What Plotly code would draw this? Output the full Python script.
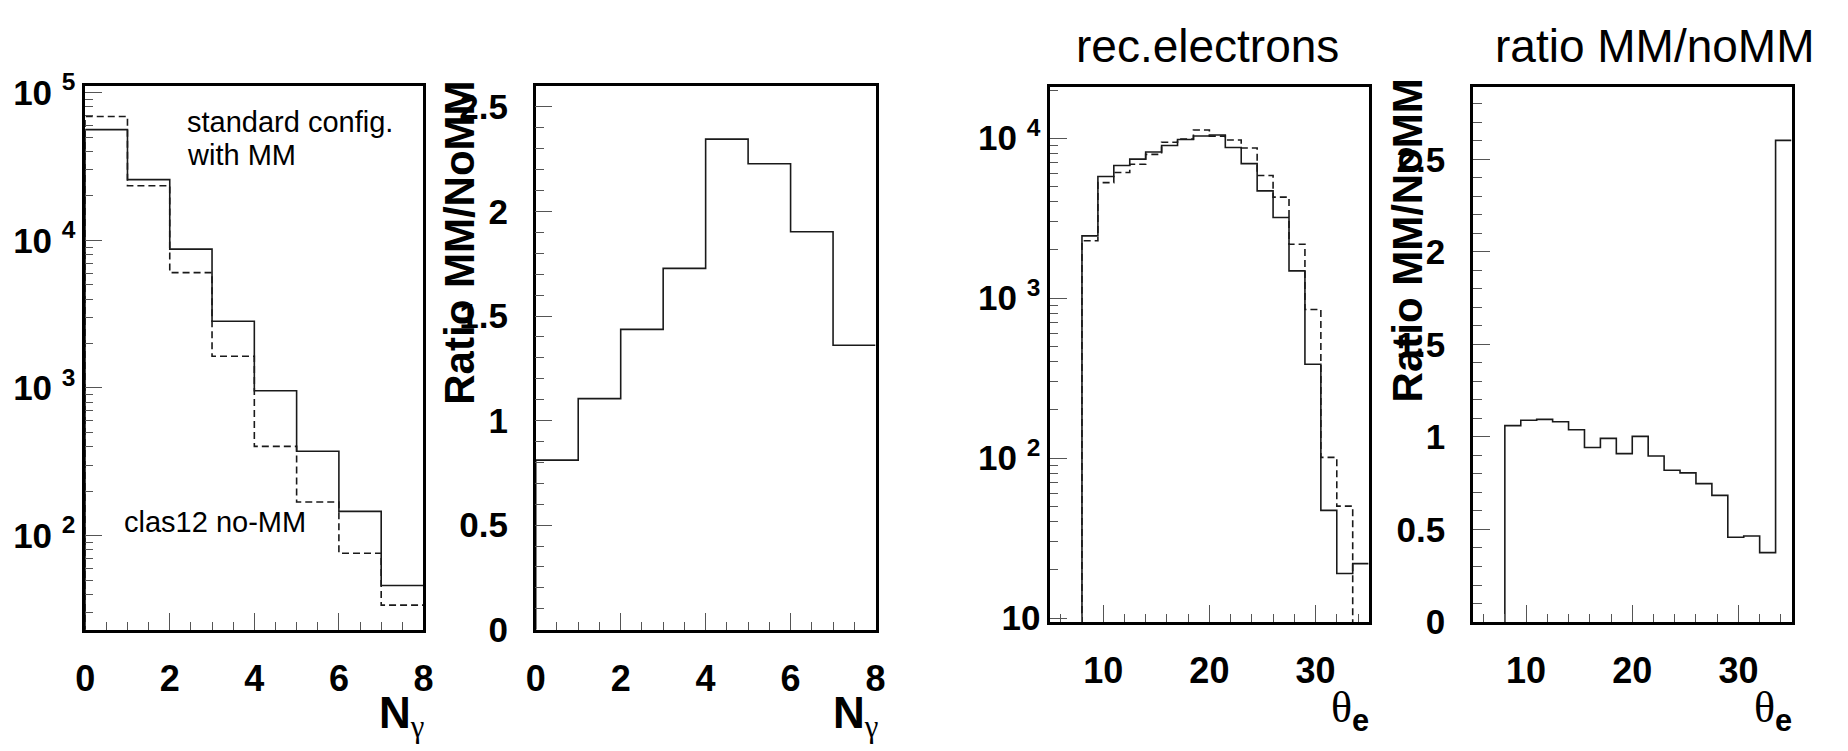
import plotly.graph_objects as go

# ---------------- data ----------------
# Panel 1 & 2 : photon multiplicity N_gamma
ng_edges = [0, 1, 2, 3, 4, 5, 6, 7, 8]
ng_with_mm = [56200, 25750, 8710, 2830, 957, 373, 146, 45.9]      # solid
ng_no_mm = [69000, 23400, 6040, 1640, 402, 169, 76, 33.8]         # dashed
ng_ratio = [0.811, 1.105, 1.436, 1.728, 2.346, 2.228, 1.903, 1.360]

# Panel 3 & 4 : electron polar angle theta_e
th_edges = [8, 9.5, 11, 12.5, 14, 15.5, 17, 18.5, 20, 21.5, 23, 24.5,
            26, 27.5, 29, 30.5, 32, 33.5, 35]
th_with_mm = [2450, 5755, 6745, 7390, 8200, 8990, 9810, 10320, 10460,
              8750, 6930, 4680, 3190, 1480, 386, 47.1, 19.0, 21.9]   # solid
th_no_mm = [2285, 5272, 6105, 6870, 7920, 9420, 9860, 11250, 10300,
            9730, 8670, 5840, 4280, 2170, 849, 101, 50.1, 8.4]      # dashed
th_ratio = [1.061, 1.090, 1.095, 1.082, 1.039, 0.943, 0.992, 0.910, 1.003,
            0.897, 0.820, 0.806, 0.748, 0.684, 0.458, 0.465, 0.375, 2.602]

log_major = [10, 100, 1000, 10000, 100000]
log_major_text = ["10", "10 <sup>2</sup>", "10 <sup>3</sup>", "10 <sup>4</sup>", "10 <sup>5</sup>"]

W, H = 1848, 751
FONT = "Liberation Sans"
LINE = "#1a1a1a"
TICKC = "#555555"


def px_x(p):
    return p / W


def px_y(p):
    return 1 - p / H


def step(edges, vals, floor):
    xs = [edges[0]] + list(edges)
    ys = [floor] + list(vals) + [vals[-1]]
    return xs, ys


fig = go.Figure()

# panel 1
for vals, dash in [(ng_no_mm, "7px,4px"), (ng_with_mm, "solid")]:
    xs, ys = step(ng_edges, vals, 1)
    fig.add_trace(go.Scatter(x=xs, y=ys, mode="lines", line_shape="hv",
                             line=dict(color=LINE, width=1.6, dash=dash),
                             xaxis="x", yaxis="y", showlegend=False, hoverinfo="skip"))
# panel 2
xs, ys = step(ng_edges, ng_ratio, 0)
fig.add_trace(go.Scatter(x=xs, y=ys, mode="lines", line_shape="hv",
                         line=dict(color=LINE, width=1.6),
                         xaxis="x2", yaxis="y2", showlegend=False, hoverinfo="skip"))
# panel 3
for vals, dash in [(th_no_mm, "7px,4px"), (th_with_mm, "solid")]:
    xs, ys = step(th_edges, vals, 1)
    fig.add_trace(go.Scatter(x=xs, y=ys, mode="lines", line_shape="hv",
                             line=dict(color=LINE, width=1.6, dash=dash),
                             xaxis="x3", yaxis="y3", showlegend=False, hoverinfo="skip"))
# panel 4
xs, ys = step(th_edges, th_ratio, 0)
fig.add_trace(go.Scatter(x=xs, y=ys, mode="lines", line_shape="hv",
                         line=dict(color=LINE, width=1.6),
                         xaxis="x4", yaxis="y4", showlegend=False, hoverinfo="skip"))


def base_axis(**kw):
    d = dict(showgrid=False, zeroline=False, showline=True, linecolor="black",
             linewidth=2.5, mirror=True, ticks="inside", ticklen=17, tickwidth=1,
             tickcolor=TICKC, tickfont=dict(family=FONT, size=36, color="black", weight="bold"))
    d.update(kw)
    return d


def log_minor(lo, hi):
    out = []
    dec = 1
    while dec < hi:
        for m in range(2, 10):
            v = m * dec
            if lo < v < hi:
                out.append(v)
        dec *= 10
    return out


dom1x = [px_x(76), px_x(418)]
dom2x = [px_x(531.5), px_x(875)]
dom3x = [px_x(1051.5), px_x(1373.5)]
dom4x = [px_x(1479), px_x(1801)]
dom12y = [px_y(643.5), px_y(72.5)]
dom3y = [px_y(635.5), px_y(74)]
dom4y = [px_y(635.5), px_y(74)]

x_ng = dict(range=[0, 8], tick0=0, dtick=2, ticklabelstandoff=15,
            minor=dict(ticks="inside", ticklen=8, dtick=0.5, tick0=0, tickcolor=TICKC, showgrid=False))
x_th = dict(range=[5, 35], tick0=0, dtick=10, ticklabelstandoff=15,
            minor=dict(ticks="inside", ticklen=8, dtick=2, tick0=0, tickcolor=TICKC, showgrid=False))
y_lin = dict(range=[0, 2.6], tick0=0, dtick=0.5, ticklabelstandoff=18,
             tickfont=dict(family=FONT, size=35, color="black", weight="bold"),
             minor=dict(ticks="inside", ticklen=9, dtick=0.1, tick0=0, tickcolor=TICKC, showgrid=False))
log_font = dict(family=FONT, size=35, color="black", weight="bold")

fig.update_layout(
    width=W, height=H, margin=dict(l=0, r=0, t=0, b=0),
    paper_bgcolor="white", plot_bgcolor="white",
    font=dict(family=FONT, color="black"),
    xaxis=base_axis(domain=dom1x, anchor="y", **x_ng),
    yaxis=base_axis(domain=dom12y, anchor="x", type="log", range=[1.363, 5.045],
                    tickmode="array", tickvals=log_major, ticktext=log_major_text,
                    ticklabelstandoff=0, tickfont=log_font,
                    minor=dict(ticks="inside", ticklen=8, tickmode="array",
                               tickvals=log_minor(10 ** 1.363, 10 ** 5.045), tickcolor=TICKC)),
    xaxis2=base_axis(domain=dom2x, anchor="y2", **x_ng),
    yaxis2=base_axis(domain=dom12y, anchor="x2", **y_lin),
    xaxis3=base_axis(domain=dom3x, anchor="y3", **x_th),
    yaxis3=base_axis(domain=dom3y, anchor="x3", type="log", range=[0.975, 4.317],
                     tickmode="array", tickvals=log_major, ticktext=log_major_text,
                     ticklabelstandoff=0, tickfont=log_font,
                     minor=dict(ticks="inside", ticklen=8, tickmode="array",
                                tickvals=log_minor(10 ** 0.975, 10 ** 4.317), tickcolor=TICKC)),
    xaxis4=base_axis(domain=dom4x, anchor="y4", **x_th),
    yaxis4=base_axis(domain=dom4y, anchor="x4", **dict(y_lin, range=[0, 2.888])),
)


def ann(text, x, y, size, xanchor="center", yanchor="middle", angle=0, bold=False, family=FONT):
    fig.add_annotation(text=text, x=px_x(x), y=px_y(y), xref="paper", yref="paper",
                       xanchor=xanchor, yanchor=yanchor, showarrow=False, textangle=angle,
                       font=dict(family=family, size=size, color="black",
                                 weight="bold" if bold else "normal"))


# in-plot texts
ann("standard config.", 177, 110, 29, xanchor="left")
ann("with MM", 177, 145, 29, xanchor="left")
ann("clas12 no-MM", 113, 530, 29, xanchor="left")

# panel titles
ann("rec.electrons", 1211, 30, 46)
ann("ratio MM/noMM", 1662, 30, 46)

# y axis titles
ann("Ratio MM/NoMM", 455, 237, 42, angle=-90, bold=True)
ann("Ratio MM/NoMM", 1413, 235, 42, angle=-90, bold=True)

# x axis titles
ng_title = 'N<sub><span style="font-family:Liberation Serif;font-weight:normal">γ</span></sub>'
th_title = ('<span style="font-family:Liberation Serif">θ</span>'
            '<sub><span style="font-weight:bold">e</span></sub>')
ann(ng_title, 421, 734, 44, xanchor="right", bold=True)
ann(ng_title, 880, 734, 44, xanchor="right", bold=True)
ann(th_title, 1376, 728, 44, xanchor="right")
ann(th_title, 1804, 728, 44, xanchor="right")

fig.write_html("out.html")
